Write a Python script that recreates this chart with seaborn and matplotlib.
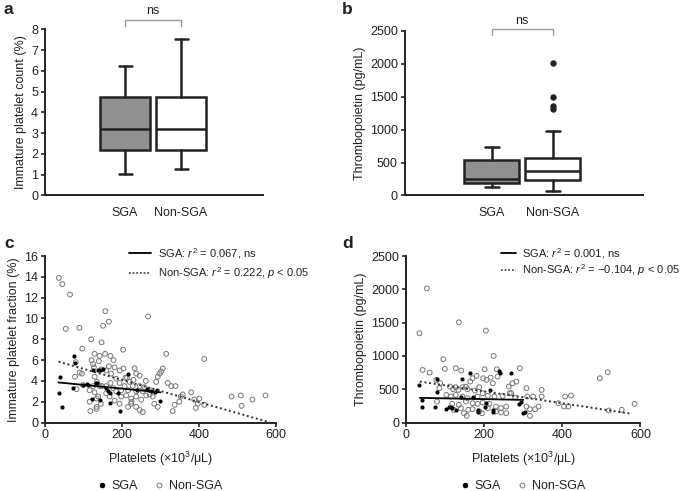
import numpy as np
import pandas as pd
import matplotlib.pyplot as plt
import seaborn as sns
from matplotlib.lines import Line2D

# ---- data ----
groups = ['SGA', 'Non-SGA']

# panel a: immature platelet count (%) box stats  [low whisker, q1, median, q3, high whisker]
ipc_sga = [1.03, 2.2, 3.22, 4.75, 6.22]
ipc_non = [1.29, 2.2, 3.22, 4.75, 7.52]

# panel b: thrombopoietin (pg/mL) box stats
tpo_sga = [126, 182, 245, 535, 734]
tpo_non = [66, 233, 364, 567, 972]
tpo_non_fliers = [1316, 1357, 1489, 2015]

# panel c: platelets vs immature platelet fraction
c_sga_x = [38, 36, 45, 76, 79, 72, 100, 110, 112, 132, 134, 143, 152, 125, 138,
           121, 143, 159, 164, 168, 169, 194, 190, 216, 240, 264, 275, 285, 290, 299]
c_sga_y = [4.4, 2.8, 1.5, 6.4, 5.7, 3.3, 3.6, 3.7, 3.6, 3.8, 3.8, 5.0, 5.1, 5.0, 5.0,
           2.3, 2.2, 3.3, 3.0, 2.8, 1.9, 1.1, 2.8, 4.7, 3.1, 3.2, 3.0, 2.9, 3.1, 2.1]
c_non_x = [36, 45, 65, 54, 89, 157, 166, 151, 120, 147, 97, 203, 129, 142, 156, 170, 178,
           121, 125, 140, 166, 181, 80, 90, 78, 96, 127, 129, 147, 159, 172, 194, 204, 209,
           233, 237, 185, 194, 213, 220, 246, 99, 82, 125, 135, 142, 159, 170, 177, 198,
           207, 216, 228, 237, 246, 254, 116, 129, 138, 148, 159, 168, 185, 198, 211, 224,
           237, 250, 263, 116, 134, 145, 134, 181, 194, 216, 224, 237, 246, 254, 118, 134,
           315, 414, 306, 302, 298, 293, 289, 319, 328, 339, 353, 358, 349, 337, 332, 380,
           388, 401, 397, 392, 414, 485, 509, 539, 573, 511, 276, 280, 284, 293, 268, 262,
           258, 272, 225, 230]
c_non_y = [13.9, 13.3, 12.3, 9.0, 9.1, 10.7, 9.7, 9.3, 8.0, 7.7, 7.1, 7.0, 6.6, 6.4, 6.6, 6.4, 6.0,
           6.0, 5.6, 5.9, 5.4, 5.3, 5.8, 4.8, 4.4, 4.7, 5.3, 4.4, 5.1, 5.0, 4.7, 5.0, 5.2, 4.3,
           5.2, 4.7, 4.2, 3.8, 4.3, 3.9, 4.5, 3.6, 3.2, 3.5, 3.9, 3.5, 3.5, 3.8, 3.3, 3.1,
           3.5, 3.1, 3.5, 3.0, 3.5, 3.0, 3.1, 2.9, 2.5, 3.5, 2.8, 2.5, 3.0, 2.5, 2.6, 2.3,
           2.5, 2.2, 2.6, 2.0, 2.3, 1.8, 1.5, 2.1, 1.8, 1.5, 1.8, 1.5, 1.2, 1.0, 1.1, 1.3,
           6.6, 6.1, 5.2, 4.9, 4.7, 4.4, 3.9, 3.8, 3.5, 3.5, 2.5, 2.7, 2.0, 1.7, 1.1, 2.9,
           2.2, 2.3, 1.8, 1.4, 1.7, 2.5, 2.6, 2.2, 2.6, 1.6, 3.1, 2.5, 1.8, 1.5, 10.2, 4.0,
           3.4, 2.7, 2.0, 4.1]

# panel d: platelets vs thrombopoietin
d_sga_x = [34, 41, 41, 79, 79, 73, 101, 109, 114, 118, 127, 142, 163, 171, 183, 183,
           204, 203, 222, 222, 237, 240, 269, 215, 140, 295, 303, 299, 290]
d_sga_y = [565, 340, 240, 650, 465, 240, 200, 230, 240, 215, 190, 650, 750, 390, 190, 165,
           290, 240, 190, 165, 780, 740, 750, 490, 390, 315, 165, 140, 280]
d_non_x = [53, 34, 135, 204, 224, 95, 42, 60, 99, 127, 141, 180, 201, 232,
           77, 87, 85, 112, 120, 127, 134, 144, 153, 164, 170, 157, 176, 187, 197, 206,
           216, 222, 234, 103, 114, 127, 144, 157, 183, 196, 209, 226, 247, 265, 79, 118,
           135, 153, 170, 183, 196, 213, 230, 243, 256, 122, 140, 148, 159, 170, 187, 194,
           209, 230, 243, 256, 155, 291, 282, 272, 263, 269, 308, 310, 325, 347, 347, 339,
           330, 317, 317, 308, 390, 407, 422, 404, 415, 496, 516, 519, 552, 585, 279]
d_non_y = [2015, 1340, 1505, 1380, 1000, 950, 790, 750, 805, 815, 780, 700, 800, 800,
           640, 590, 515, 540, 500, 530, 490, 530, 540, 615, 665, 500, 480, 530, 665, 640,
           675, 590, 690, 415, 390, 415, 390, 365, 390, 440, 400, 390, 400, 440, 315, 280,
           265, 315, 290, 280, 300, 280, 240, 215, 240, 190, 215, 140, 190, 200, 165, 140,
           215, 165, 150, 140, 100, 815, 615, 590, 540, 440, 515, 390, 390, 490, 390, 240,
           200, 200, 100, 240, 290, 390, 405, 240, 240, 665, 755, 180, 190, 280, 375]

# regression lines (end points)
c_fit_sga_x, c_fit_sga_y = [35, 300], [3.85, 2.9]
c_fit_non_x, c_fit_non_y = [35, 585], [5.85, 0.0]
d_fit_sga_x, d_fit_sga_y = [35, 300], [370, 340]
d_fit_non_x, d_fit_non_y = [35, 578], [615, 130]

# ---- style ----
sns.set_style('ticks')
plt.rcParams['font.family'] = ['Liberation Sans', 'DejaVu Sans']
plt.rcParams['mathtext.fontset'] = 'custom'
plt.rcParams['mathtext.rm'] = 'Liberation Sans'
plt.rcParams['mathtext.it'] = 'Liberation Sans:italic'
dark = '#222222'
plt.rcParams.update({'axes.edgecolor': dark, 'xtick.color': dark, 'ytick.color': dark,
                     'text.color': dark, 'axes.labelcolor': dark, 'font.size': 9})

fig = plt.figure(figsize=(6.85, 4.91), dpi=100)
ax_a = fig.add_axes([0.0657, 0.602, 0.318, 0.338])
ax_b = fig.add_axes([0.591, 0.602, 0.347, 0.335])
ax_c = fig.add_axes([0.0657, 0.1395, 0.337, 0.339])
ax_d = fig.add_axes([0.593, 0.1395, 0.342, 0.339])


def box_stats(vals, fliers=()):
    return dict(whislo=vals[0], q1=vals[1], med=vals[2], q3=vals[3], whishi=vals[4],
                fliers=list(fliers), label='')


def style_axes(ax):
    for s in ['top', 'right']:
        ax.spines[s].set_visible(False)
    for s in ['left', 'bottom']:
        ax.spines[s].set_linewidth(1.4)
    ax.tick_params(width=1.2, length=3, labelsize=9, pad=2)


def draw_box(ax, stats):
    res = ax.bxp(stats, positions=[0, 1], widths=0.9, patch_artist=True,
                 boxprops=dict(edgecolor=dark, linewidth=1.8),
                 whiskerprops=dict(color=dark, linewidth=1.8),
                 capprops=dict(color=dark, linewidth=1.8),
                 medianprops=dict(color=dark, linewidth=1.8),
                 flierprops=dict(marker='o', markerfacecolor=dark, markeredgecolor=dark,
                                 markersize=3.6),
                 capwidths=0.23)
    res['boxes'][0].set_facecolor('#919191')
    res['boxes'][1].set_facecolor('white')
    ax.set_xticks([0, 1])
    ax.set_xticklabels(groups)


def bracket(ax, y_top, y_low, y_text):
    ax.plot([0, 0, 1, 1], [y_low, y_top, y_top, y_low], color='#9a9a9a', lw=1,
            clip_on=False)
    ax.text(0.5, y_text, 'ns', ha='center', va='center', fontsize=9)


# panel a
draw_box(ax_a, [box_stats(ipc_sga), box_stats(ipc_non)])
ax_a.set_xlim(-1.43, 2.46)
ax_a.set_ylim(0, 8)
ax_a.set_yticks(range(0, 9))
ax_a.set_ylabel('Immature platelet count (%)', labelpad=3)
style_axes(ax_a)
ax_a.tick_params(axis='x', length=0, pad=8)
bracket(ax_a, 8.48, 8.16, 8.88)

# panel b
draw_box(ax_b, [box_stats(tpo_sga), box_stats(tpo_non, tpo_non_fliers)])
ax_b.set_xlim(-1.43, 2.48)
ax_b.set_ylim(0, 2500)
ax_b.set_yticks(range(0, 2501, 500))
ax_b.set_ylabel('Thrombopoietin (pg/mL)', labelpad=3)
style_axes(ax_b)
ax_b.tick_params(axis='x', length=0, pad=8)
bracket(ax_b, 2536, 2435, 2652)


# scatter panels
def scatter_panel(ax, sx, sy, nx, ny, fits, ylim, yticks, ylabel, labels, lspace, anchor, hl):
    df_s = pd.DataFrame({'x': sx, 'y': sy})
    df_n = pd.DataFrame({'x': nx, 'y': ny})
    sns.scatterplot(data=df_n, x='x', y='y', ax=ax, s=12, marker='o',
                    facecolor='none', edgecolor='#777777', linewidth=0.7, zorder=2)
    sns.scatterplot(data=df_s, x='x', y='y', ax=ax, s=9, color='black',
                    edgecolor='black', linewidth=0, zorder=3)
    (fx1, fy1), (fx2, fy2) = fits
    ax.plot(fx1, fy1, color='black', lw=1.3, zorder=4)
    ax.plot(fx2, fy2, color='#333333', lw=1.4, ls=(0, (1, 1.4)), zorder=4)
    ax.set_xlim(0, 600)
    ax.set_xticks([0, 200, 400, 600])
    ax.set_ylim(*ylim)
    ax.set_yticks(yticks)
    ax.set_xlabel('Platelets (×10$^3$/μL)', labelpad=6)
    ax.set_ylabel(ylabel, labelpad=3)
    style_axes(ax)
    handles = [Line2D([], [], color='black', lw=1.3),
               Line2D([], [], color='#333333', lw=1.2, ls=(0, (1, 1.2)))]
    ax.legend(handles, labels, loc='upper left', bbox_to_anchor=anchor, frameon=False,
              fontsize=8, handlelength=hl, handletextpad=0.6, borderpad=0,
              borderaxespad=0, labelspacing=lspace)


scatter_panel(ax_c, c_sga_x, c_sga_y, c_non_x, c_non_y,
              [(c_fit_sga_x, c_fit_sga_y), (c_fit_non_x, c_fit_non_y)],
              (0, 16), range(0, 17, 2), 'Immature platelet fraction (%)',
              ['SGA: $r^2$ = 0.067, ns', 'Non-SGA: $r^2$ = 0.222, $p$ < 0.05'],
              0.4, (0.365, 1.06), 2.0)
scatter_panel(ax_d, d_sga_x, d_sga_y, d_non_x, d_non_y,
              [(d_fit_sga_x, d_fit_sga_y), (d_fit_non_x, d_fit_non_y)],
              (0, 2500), range(0, 2501, 500), 'Thrombopoietin (pg/mL)',
              ['SGA: $r^2$ = 0.001, ns', 'Non-SGA: $r^2$ = \u22120.104, $p$ < 0.05'],
              0.1, (0.405, 1.06), 1.3)

# bottom legends
for xc in [0.232, 0.762]:
    h = [Line2D([], [], ls='', marker='o', color='black', markersize=3),
         Line2D([], [], ls='', marker='o', markerfacecolor='none',
                markeredgecolor='#777777', markersize=3.5, markeredgewidth=0.7)]
    fig.legend(h, groups, loc='center', bbox_to_anchor=(xc, 0.01), ncol=2,
               frameon=False, fontsize=9, handlelength=1, handletextpad=0.3,
               columnspacing=1.2, borderpad=0)

# panel letters
for lab, (px, py) in zip('abcd', [(4, 9), (342, 9), (4, 243), (342, 243)]):
    fig.text(px / 685, 1 - py / 491, lab, fontsize=12.5, fontweight='bold',
             ha='left', va='center')

fig.savefig('out.png', dpi=100)
